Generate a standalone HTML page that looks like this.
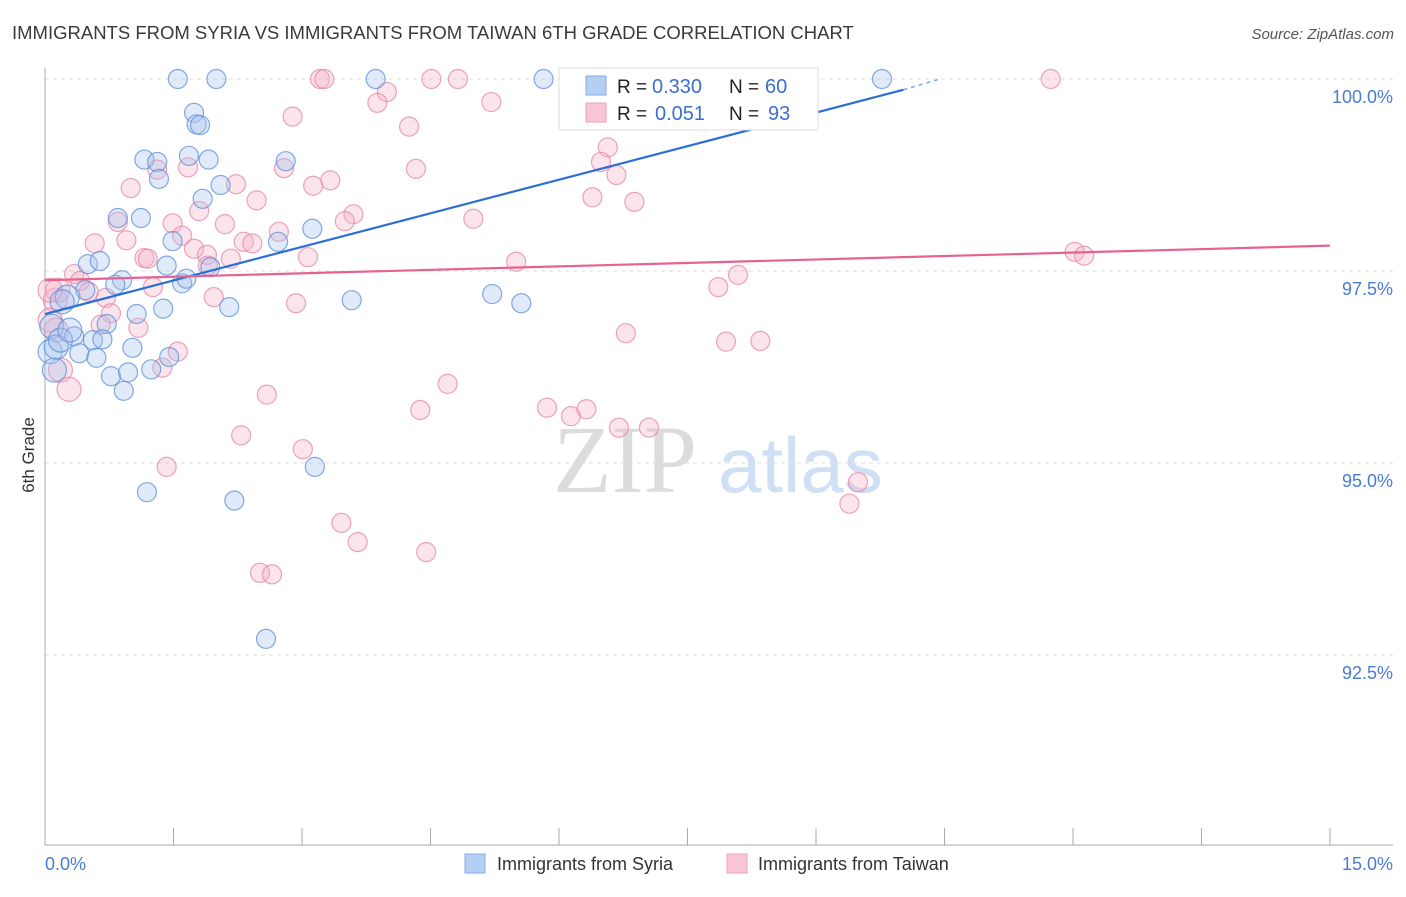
<!DOCTYPE html>
<html><head><meta charset="utf-8"><style>
body{margin:0;background:#fff;font-family:"Liberation Sans",sans-serif}
</style></head><body>
<svg id="chart" width="1406" height="892" xmlns="http://www.w3.org/2000/svg" style="font-family:'Liberation Sans',sans-serif">
<text x="12" y="39" font-size="18.5" fill="#3a3a3a">IMMIGRANTS FROM SYRIA VS IMMIGRANTS FROM TAIWAN 6TH GRADE CORRELATION CHART</text>
<text x="1394" y="39" font-size="15" fill="#555" font-style="italic" text-anchor="end">Source: ZipAtlas.com</text>
<g>
<text x="553" y="492" font-size="96" fill="#dcdcdc" font-family="Liberation Serif,serif">ZIP</text>
<text x="718" y="492" font-size="78" fill="#cfdff4">atlas</text>
</g>
<g id="grid"></g>
<g id="axes"></g>
<g id="pts"></g>
<g id="trend"></g>
<text transform="translate(34,455) rotate(-90)" font-size="17" fill="#333" text-anchor="middle">6th Grade</text>
<g>
<rect x="559" y="68" width="259" height="62" fill="#fff" stroke="#ddd"/>
<rect x="586" y="76" width="20" height="19" fill="#b4cff3" stroke="#86aee6"/>
<rect x="586" y="103" width="20" height="19" fill="#f8c6d5" stroke="#eca3b9"/>
<text x="617" y="93" font-size="19" fill="#222">R =</text>
<text x="652" y="93" font-size="20" fill="#3a6fcf">0.330</text>
<text x="729" y="93" font-size="19" fill="#222">N =</text>
<text x="765" y="93" font-size="20" fill="#3a6fcf">60</text>
<text x="617" y="120" font-size="19" fill="#222">R =</text>
<text x="655" y="120" font-size="20" fill="#3a6fcf">0.051</text>
<text x="729" y="120" font-size="19" fill="#222">N =</text>
<text x="768" y="120" font-size="20" fill="#3a6fcf">93</text>
</g>
<g>
<rect x="465" y="854" width="20" height="19" fill="#b4cff3" stroke="#86aee6"/>
<text x="497" y="870" font-size="18" fill="#333">Immigrants from Syria</text>
<rect x="727" y="854" width="20" height="19" fill="#f8c6d5" stroke="#eca3b9"/>
<text x="758" y="870" font-size="18" fill="#333">Immigrants from Taiwan</text>
</g>
</svg>
<script>
const yTicks=[100,97.5,95,92.5];
const yTickLabels=["100.0%","97.5%","95.0%","92.5%"];
const xTickLabels=["0.0%","15.0%"];
const syriaX=[1.55,2.00,3.86,5.82,9.77,1.74,1.77,1.81,1.68,1.91,1.16,1.31,2.81,1.33,2.05,1.84,0.85,1.12,3.12,1.49,2.72,0.50,0.64,1.42,1.93,0.90,1.60,1.65,0.82,0.47,0.26,0.20,3.58,5.22,5.56,2.15,1.38,1.07,0.72,0.08,0.34,0.56,0.67,1.02,0.40,0.60,0.06,0.11,0.77,0.97,1.24,1.45,0.92,3.15,1.19,2.21,2.58,0.13,0.18,0.29];
const syriaY=[100,100,100,100,100,99.56,99.41,99.40,99.00,98.95,98.95,98.92,98.93,98.70,98.62,98.44,98.19,98.19,98.05,97.89,97.88,97.59,97.63,97.57,97.55,97.38,97.34,97.40,97.32,97.25,97.16,97.10,97.12,97.20,97.08,97.03,97.01,96.94,96.81,96.78,96.65,96.60,96.61,96.50,96.43,96.37,96.45,96.21,96.13,96.18,96.22,96.38,95.94,94.95,94.62,94.51,92.71,96.51,96.60,96.73];
const taiwanX=[3.21,3.26,4.51,4.82,6.30,11.74,3.99,3.88,5.21,2.89,4.25,6.57,6.49,2.79,1.67,1.31,4.33,6.67,2.23,1.00,6.39,6.88,2.47,3.33,3.13,1.80,3.60,3.50,5.00,0.85,1.49,2.10,2.73,1.60,0.58,0.95,2.32,2.42,1.74,1.89,12.02,12.13,1.16,1.20,2.17,3.07,5.50,1.90,0.34,0.41,1.26,8.09,7.86,0.51,0.71,1.97,2.93,0.12,0.15,0.06,0.77,0.65,1.09,6.78,7.95,8.35,0.13,1.55,1.37,0.18,4.70,0.28,2.59,4.38,5.86,6.14,6.32,6.70,7.05,2.29,3.01,1.42,9.49,9.39,3.46,3.65,4.45,2.51,2.65,0.06];
const taiwanY=[100,100,100,100,100,100,99.83,99.69,99.70,99.51,99.38,99.11,98.92,98.84,98.85,98.82,98.83,98.75,98.63,98.58,98.46,98.40,98.42,98.68,98.61,98.28,98.24,98.15,98.18,98.14,98.12,98.11,98.01,97.96,97.86,97.90,97.88,97.86,97.79,97.71,97.75,97.70,97.67,97.66,97.66,97.68,97.62,97.57,97.46,97.37,97.29,97.45,97.29,97.23,97.15,97.16,97.08,97.12,97.25,97.25,96.95,96.80,96.76,96.69,96.58,96.59,96.73,96.45,96.24,96.21,96.03,95.96,95.89,95.69,95.72,95.61,95.70,95.46,95.46,95.36,95.18,94.95,94.75,94.47,94.22,93.97,93.84,93.57,93.55,96.86];
const syriaTrendX=[0,10.02,10.45];
const syriaTrendY=[96.94,99.86,100.0];
const taiwanTrendX=[0,15];
const taiwanTrendY=[97.38,97.83];

const NS="http://www.w3.org/2000/svg";
const xs=v=>45+v/15*1285;
const ys=v=>79+(100-v)/2.5*192;
function mk(tag,attrs,parent){const e=document.createElementNS(NS,tag);for(const k in attrs)e.setAttribute(k,attrs[k]);document.getElementById(parent).appendChild(e);return e;}

yTicks.forEach((t,i)=>{
  const g=mk('line',{x1:45,x2:1393,y1:ys(t),y2:ys(t),stroke:'#ddd','stroke-dasharray':'4,4'},'grid');
  
  
  const l=mk('text',{x:1393,y:ys(t)+24,'font-size':18,fill:'#4a7bd0','text-anchor':'end'},'axes');
  l.textContent=yTickLabels[i];
  
  
});
const ya=mk('line',{x1:45,x2:45,y1:68,y2:845,stroke:'#aaa'},'axes');


const xa=mk('line',{x1:45,x2:1393,y1:845,y2:845,stroke:'#aaa'},'axes');


for(let i=1;i<=10;i++){
  const t=mk('line',{x1:xs(i*1.5),x2:xs(i*1.5),y1:828,y2:845,stroke:'#aaa'},'axes');
  
  
}
const xl0=mk('text',{x:45,y:870,'font-size':18,fill:'#4a7bd0'},'axes');
xl0.textContent=xTickLabels[0];


const xl1=mk('text',{x:1393,y:870,'font-size':18,fill:'#4a7bd0','text-anchor':'end'},'axes');
xl1.textContent=xTickLabels[1];



function dots(X,Y,fill,stroke,name){
  X.forEach((x,i)=>{
    const r=x<0.3?12:9.5;
    const c=mk('circle',{cx:xs(x),cy:ys(Y[i]),r:r,fill:fill,'fill-opacity':0.35,stroke:stroke,'stroke-width':1.2,'stroke-opacity':0.75},'pts');
    
    
  });
}
dots(taiwanX,taiwanY,'#f6b3c8','#e685a4','taiwan-point');
dots(syriaX,syriaY,'#a5c3ef','#5b8ddb','syria-point');

const s1=mk('line',{x1:xs(syriaTrendX[0]),y1:ys(syriaTrendY[0]),x2:xs(syriaTrendX[1]),y2:ys(syriaTrendY[1]),stroke:'#2b6fd6','stroke-width':2.2},'trend');


const s2=mk('line',{x1:xs(syriaTrendX[1]),y1:ys(syriaTrendY[1]),x2:xs(syriaTrendX[2]),y2:ys(syriaTrendY[2]),stroke:'#2b6fd6','stroke-width':1.5,'stroke-dasharray':'4,4','stroke-opacity':0.6},'trend');


const t1=mk('line',{x1:xs(taiwanTrendX[0]),y1:ys(taiwanTrendY[0]),x2:xs(taiwanTrendX[1]),y2:ys(taiwanTrendY[1]),stroke:'#e56390','stroke-width':2.2},'trend');


</script>
</body></html>
